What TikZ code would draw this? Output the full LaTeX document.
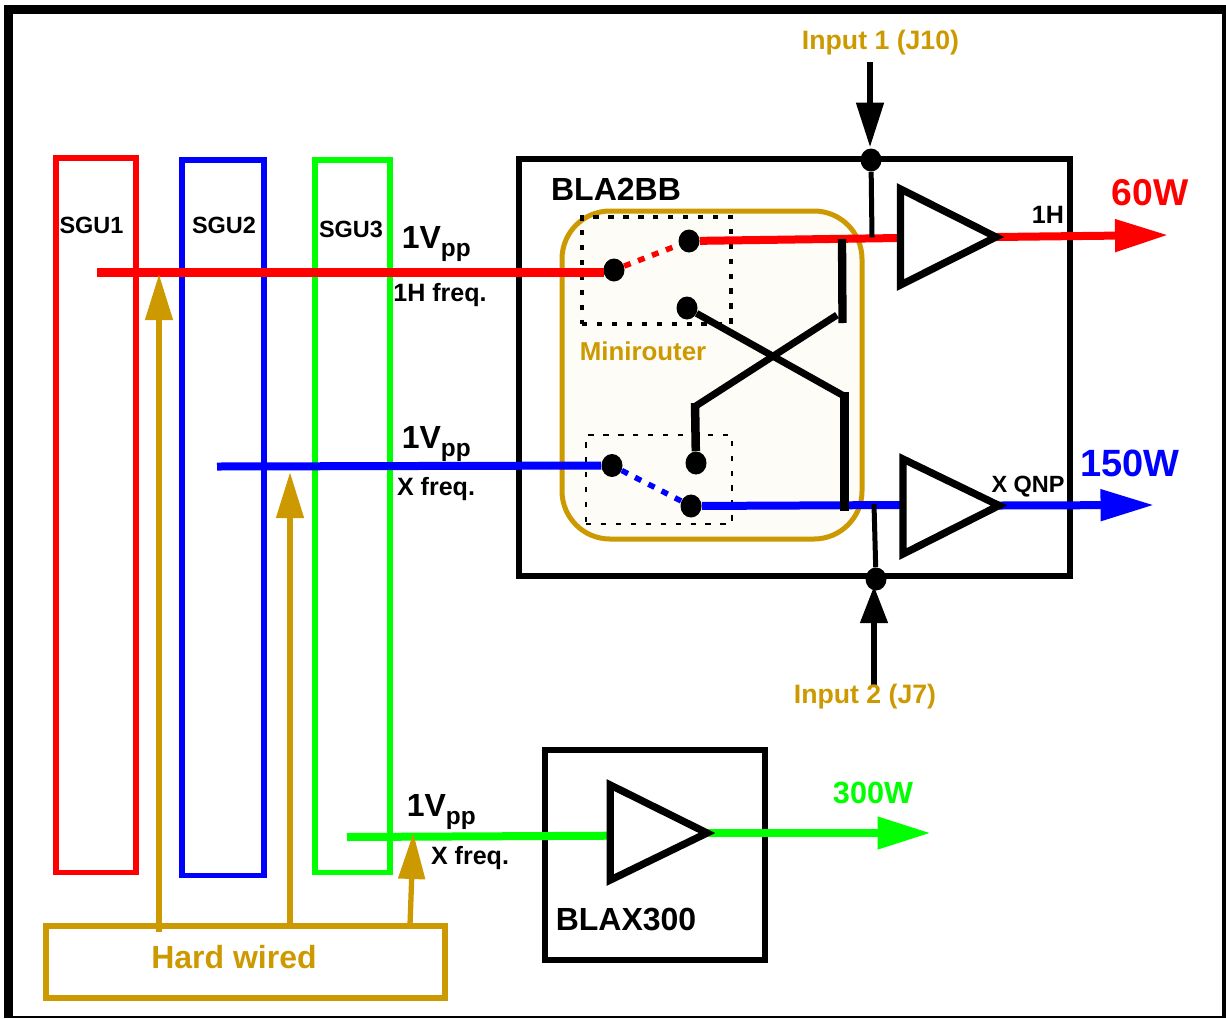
\documentclass[tikz,border=0pt]{standalone}
\usepackage{fontspec}
\setmainfont{Liberation Sans}
\usetikzlibrary{arrows.meta,shapes.geometric}
\definecolor{gold}{RGB}{204,153,0}
\definecolor{lime}{RGB}{0,255,0}
\definecolor{cream}{RGB}{253,252,247}
\newcommand\fsz[1]{\fontsize{#1}{#1}\selectfont\bfseries}
\newcommand\vpp{\fsz{24pt}1V\raisebox{-6.3pt}{\fsz{18.3pt}pp}}
\tikzset{
  x=0.75pt,y=-0.75pt,
  wire/.style={line width=#1*0.75pt,line cap=butt},
  box/.style={draw,line width=#1*0.75pt,line join=miter},
  dotn/.style={ellipse,fill=black,inner sep=0pt,minimum width=21*0.75pt,minimum height=23*0.75pt},
  lbl/.style={inner sep=0pt,anchor=base,font=\fsz{#1}},
  bighead/.style n args={3}{-{Triangle[length=#1*0.75pt,width=#2*0.75pt]},line width=#3*0.75pt},
  dotted box/.style={draw,line width=#1*0.75pt,dash pattern=on 4pt off 7.2pt},
  switch/.style={line width=5.5*0.75pt,dash pattern=on 5.2pt off 6pt},
  amp/.style={line width=7.3*0.75pt,line join=miter},
}
\begin{document}
\begin{tikzpicture}
\useasboundingbox (0,0) rectangle (1226,1018);
% outer frame
\draw[line width=9*0.75pt,line join=miter] (8.5,1018) -- (8.5,9.5) -- (1226,9.5);
\draw[line width=4*0.75pt] (1224,5) -- (1224,1018);
\draw[line width=1.5*0.75pt] (8,1017.2) -- (1226,1017.2);
% SGU boxes
\node[box=5.5,draw=red,minimum width=80*0.75pt,minimum height=714.7*0.75pt,inner sep=0pt] (sgu1) at (96,515.3) {};
\node[box=5.5,draw=blue,minimum width=82*0.75pt,minimum height=715.7*0.75pt,inner sep=0pt] (sgu2) at (223,517.8) {};
\node[box=5.5,draw=lime,minimum width=75*0.75pt,minimum height=712.7*0.75pt,inner sep=0pt] (sgu3) at (352.5,516.3) {};
\node[lbl=17.6pt] (t1) at (91.5,233.2) {SGU1};
\node[lbl=17.6pt] (t2) at (224,233.2) {SGU2};
\node[lbl=17.6pt] (t3) at (351,237.3) {SGU3};
% main boxes
\node[box=5.5,draw=black,minimum width=551*0.75pt,minimum height=417*0.75pt,inner sep=0pt] (bla) at (794.5,367.5) {};
\node[box=5.5,draw=black,minimum width=220.3*0.75pt,minimum height=210*0.75pt,inner sep=0pt] (blax) at (654.9,855) {};
\node[lbl=24pt] (blat) at (616,200.5) {BLA2BB};
\node[lbl=24pt] (blaxt) at (626,930) {BLAX300};
% minirouter
\node[draw=gold,fill=cream,line width=5*0.75pt,rounded corners=36pt,minimum width=300*0.75pt,minimum height=328*0.75pt,inner sep=0pt] (mini) at (712,375) {};
\node[lbl=19.4pt,text=gold] (minit) at (643,360.5) {Minirouter};
\node[dotted box=3.2,minimum width=149*0.75pt,minimum height=107*0.75pt,inner sep=0pt] (sw1) at (656.5,270.5) {};
\node[dotted box=2.9,minimum width=146*0.75pt,minimum height=89*0.75pt,inner sep=0pt] (sw2) at (659,479.5) {};
% switch dots
\node[dotn] (rs) at (614,270) {};
\node[dotn] (rt) at (689,241) {};
\node[dotn] (rb) at (687,308) {};
\node[dotn] (bs) at (612,465.5) {};
\node[dotn] (bu) at (696,463) {};
\node[dotn] (bl) at (691,506) {};
\node[dotn] (in1) at (871,160) {};
\node[dotn] (in2) at (876,579) {};
% coordinates
\coordinate (ra) at (97,272.3);
\coordinate (rb2) at (604,272.3);
\coordinate (ba) at (217,466.5);
\coordinate (ga) at (347,837);
\coordinate (t1a) at (900.5,189); \coordinate (t1b) at (900.5,285); \coordinate (t1c) at (996,237);
\coordinate (t2a) at (903,459); \coordinate (t2b) at (903,554); \coordinate (t2c) at (999,505.5);
\coordinate (t3a) at (610.3,785); \coordinate (t3b) at (610.3,880); \coordinate (t3c) at (707,833);
\coordinate (r3) at (900,238);
\coordinate (b3) at (903,505);
\coordinate (g3) at (610.3,835.7);
\coordinate (re) at (1168,235);
\coordinate (be) at (1154,505);
\coordinate (ge) at (930.5,833);
\coordinate (j0) at (844.5,392);
\coordinate (j1) at (844,396);
\coordinate (j2) at (844.5,511);
\coordinate (j3) at (695,403);
\coordinate (j3b) at (695,406.5);
\coordinate (j4) at (837,315);
\coordinate (j5) at (842,239);
\coordinate (j6) at (842.5,323);
\coordinate (top) at (872,237.3);
\coordinate (bot) at (874,504);
\coordinate (i1) at (870,62);
\coordinate (i1t) at (870,147.5);
\coordinate (i2) at (874,685);
\coordinate (i2t) at (874,586);
% coloured wires
\draw[wire=8.5,red] (ra) -- (rb2);
\draw[wire=8,red] (rt) -- (r3);
\draw[wire=8,blue] (ba) -- (bs);
\draw[wire=8,blue] (bl) -- (b3);
\draw[wire=8,lime] (ga) -- (g3);
\draw[switch,red] (rs) -- (rt);
\draw[switch,blue] (bs) -- (bl);
% crossing
\draw[wire=7] (rb) -- (j1);
\draw[wire=8.7] (j0) -- (j2);
\draw[wire=8.5] (bu) -- (j3);
\draw[wire=7] (j3b) -- (j4);
\draw[wire=8.3] (j5) -- (j6);
\draw[wire=5] (in1) -- (top);
\draw[wire=5] (in2) -- (bot);
% output arrows
\draw[bighead={53}{31}{8},red] (t1c) -- (re);
\draw[bighead={53.5}{30}{8},blue] (t2c) -- (be);
\draw[bighead={53}{31}{7.5},lime] (t3c) -- (ge);
% amplifiers
\draw[amp] (t1a) -- (t1c) -- (t1b) -- cycle;
\draw[amp] (t2a) -- (t2c) -- (t2b) -- cycle;
\draw[amp] (t3a) -- (t3c) -- (t3b) -- cycle;
% input arrows
\draw[bighead={45}{26.5}{6.5},black] (i1) -- (i1t);
\draw[bighead={37}{26.5}{6},black] (i2) -- (i2t);
% hard wired
\node[box=5.5,draw=gold,minimum width=399*0.75pt,minimum height=72*0.75pt,inner sep=0pt] (hw) at (245.5,962) {};
\node[lbl=24pt,text=gold] (hwt) at (234,968) {Hard wired};
\coordinate (h1) at (159,931.5); \coordinate (h1t) at (159,274);
\coordinate (h2) at (290,929); \coordinate (h2t) at (290,472);
\coordinate (h3) at (410,925); \coordinate (h3t) at (413.3,833);
\draw[bighead={46}{26.5}{6},gold] (h1) -- (h1t);
\draw[bighead={46}{26.5}{6},gold] (h2) -- (h2t);
\draw[bighead={46}{26}{5.3},gold] (h3) -- (h3t);
% labels
\node[inner sep=0pt,anchor=base west] (v1) at (401.5,248) {\vpp};
\node[inner sep=0pt,anchor=base west] (v2) at (401.5,448.5) {\vpp};
\node[inner sep=0pt,anchor=base west] (v3) at (406.5,816.5) {\vpp};
\node[lbl=18.8pt] (f1) at (440,301) {1H freq.};
\node[lbl=18.8pt] (f2) at (436,495) {X freq.};
\node[lbl=18.8pt] (f3) at (470,864.5) {X freq.};
\node[lbl=28pt,text=red] (w60) at (1150,205) {60W};
\node[lbl=28.5pt,text=blue] (w150) at (1130,476) {150W};
\node[lbl=23pt,text=lime] (w300) at (873,803) {300W};
\node[lbl=18.8pt] (o1) at (1048,223) {1H};
\node[lbl=17.6pt] (o2) at (1028,492) {X QNP};
\node[lbl=20pt,text=gold] (i1l) at (880.5,49.5) {Input 1 (J10)};
\node[lbl=20pt,text=gold] (i2l) at (865,703.5) {Input 2 (J7)};
\end{tikzpicture}
\end{document}
